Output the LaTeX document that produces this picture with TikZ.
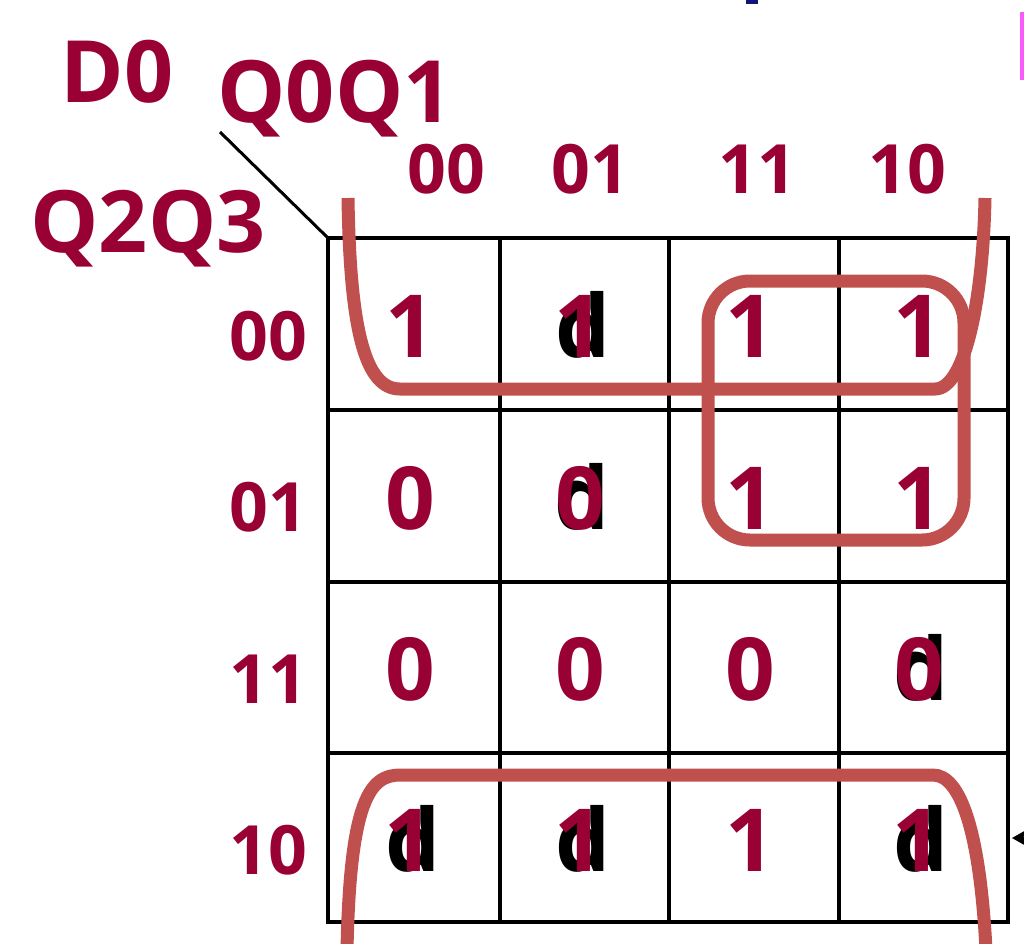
\documentclass[tikz,border=0pt]{standalone}
\usepackage{fontspec}
\setmainfont{Open Sans}
\usetikzlibrary{arrows.meta}
\definecolor{kmred}{RGB}{153,0,51}
\definecolor{grpred}{RGB}{192,80,77}
\definecolor{edgemag}{RGB}{250,90,250}
\definecolor{edgeblue}{RGB}{20,20,120}
\tikzset{
  val/.style={text=kmred,font=\bfseries\fontsize{87}{90}\selectfont,anchor=base,inner sep=0pt},
  dcare/.style={text=black,font=\bfseries\fontsize{87}{90}\selectfont,anchor=base,inner sep=0pt},
  head/.style={text=kmred,font=\bfseries\fontsize{68}{72}\selectfont,anchor=base,inner sep=0pt},
  title/.style={text=kmred,font=\bfseries\fontsize{86}{90}\selectfont,anchor=base,inner sep=0pt},
  kmline/.style={draw=black,line width=4.5pt},
  grp/.style={draw=grpred,line width=13pt}
}
\begin{document}
\begin{tikzpicture}[x=1pt,y=-1pt]
    \useasboundingbox (0,0) rectangle (1024,943);
    \clip (0,0) rectangle (1024,943);
    % map
    \draw[kmline] (328,238) rectangle (1008,922);
    \draw[kmline] (500,238) -- (500,922);
    \draw[kmline] (669,238) -- (669,922);
    \draw[kmline] (839,238) -- (839,922);
    \draw[kmline] (328,410) -- (1008,410);
    \draw[kmline] (328,582) -- (1008,582);
    \draw[kmline] (328,753) -- (1008,753);
    \coordinate (corner) at (328,238);
    \coordinate (slash) at (220,132);
    \draw[line width=3pt] (slash) -- (corner);
    % variable names
    \node[title] (dzero) at (117,102){D0};
    \node[title] (qcol) at (335,122){Q0Q1};
    \node[title] (qrow) at (148,252){Q2Q3};
    \node[head] (c00) at (446,193){00};
    \node[head] (c01) at (590,193){01};
    \node[head] (c11) at (757,193){11};
    \node[head] (c10) at (907,193){10};
    \node[head] (r00) at (268,360){00};
    \node[head] (r01) at (268,531){01};
    \node[head] (r11) at (268,703){11};
    \node[head] (r10) at (268,874){10};
    % row 00
    \node[val] (a1) at (410,357){1};
    \node[dcare] (d2) at (583,357){d};
    \node[val] (a2) at (579,357){1};
    \node[val] (a3) at (750,357){1};
    \node[val] (a4) at (918,357){1};
    % row 01
    \node[val] (b1) at (410,529){0};
    \node[dcare] (e2) at (582,529){d};
    \node[val] (b2) at (580,529){0};
    \node[val] (b3) at (750,529){1};
    \node[val] (b4) at (918,529){1};
    % row 11
    \node[val] (c1) at (410,700){0};
    \node[val] (c2) at (580,700){0};
    \node[val] (c3) at (750,700){0};
    \node[dcare] (f4) at (921,700){d};
    \node[val] (c4) at (919,700){0};
    % row 10
    \node[dcare] (g1) at (413,871){d};
    \node[val] (d1) at (409,871){1};
    \node[dcare] (g2) at (583,871){d};
    \node[val] (d2) at (579,871){1};
    \node[val] (d3) at (750,871){1};
    \node[dcare] (g4) at (921,871){d};
    \node[val] (d4) at (917,871){1};
    % groups
    \draw[grp] (348,198) .. controls (350,330) and (365,389) .. (400,389) -- (935,389) .. controls (965,389) and (983,300) .. (985,198);
    \draw[grp] (347,950) .. controls (350,800) and (370,775) .. (400,775) -- (933,775) .. controls (960,775) and (980,830) .. (986,950);
    \draw[grp,rounded corners=42pt] (708,281) rectangle (964,540);
    % cut-off pieces at the edges
    \coordinate (arrtail) at (1045,838);
    \coordinate (arrtip) at (1012,838);
    \draw[-{Stealth[length=16pt,width=18pt]},line width=3pt] (arrtail) -- (arrtip);
    \fill[edgemag] (1020,12) rectangle (1026,80);
    \fill[edgeblue] (746,-2) rectangle (758,4);
\end{tikzpicture}
\end{document}
